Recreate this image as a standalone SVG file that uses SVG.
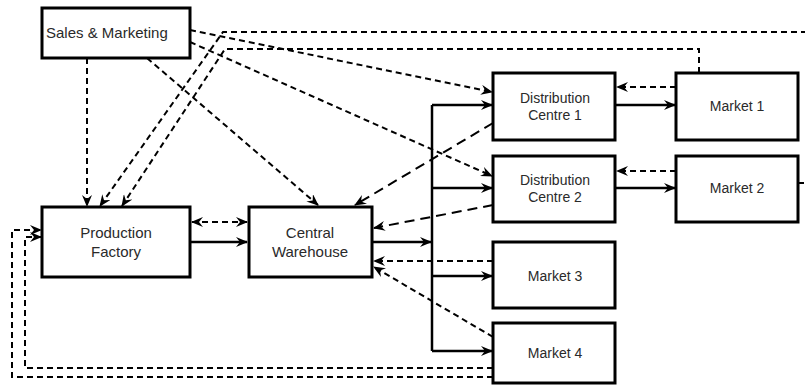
<svg xmlns="http://www.w3.org/2000/svg" width="805" height="388" viewBox="0 0 805 388">
<defs>
<marker id="ah" viewBox="0 0 12 10" refX="11" refY="5" markerWidth="12" markerHeight="10" markerUnits="userSpaceOnUse" orient="auto-start-reverse">
<path d="M0,0 L12,5 L0,10 L4,5 z" fill="#000"/>
</marker>
<style>
.box{fill:#fff;stroke:#000;stroke-width:3}
.t{font-family:"Liberation Sans",Arial,sans-serif;font-size:14px;fill:#2a2a2a;text-anchor:middle}
.l{font-size:15px}
.s{fill:none;stroke:#000;stroke-width:2.5}
.d{fill:none;stroke:#000;stroke-width:2;stroke-dasharray:6,4}
.dl{fill:none;stroke:#000;stroke-width:2;stroke-dasharray:10,6}
</style>
</defs>
<rect width="805" height="388" fill="#fff"/>
<g id="connectors">
<!-- solid flows -->
<path class="s" d="M190,242 H247" marker-end="url(#ah)"/>
<path class="s" d="M372,242 H431" marker-end="url(#ah)"/>
<path class="s" d="M432,105 V351"/>
<path class="s" d="M432,105 H492" marker-end="url(#ah)"/>
<path class="s" d="M432,188 H492" marker-end="url(#ah)"/>
<path class="s" d="M432,276 H492" marker-end="url(#ah)"/>
<path class="s" d="M432,351 H492" marker-end="url(#ah)"/>
<path class="s" d="M615,105 H675" marker-end="url(#ah)"/>
<path class="s" d="M615,188 H675" marker-end="url(#ah)"/>
<!-- dashed information flows -->
<path class="d" d="M676,87 H617" marker-end="url(#ah)"/>
<path class="d" d="M676,171 H617" marker-end="url(#ah)"/>
<path class="d" d="M87,58 V206" marker-end="url(#ah)"/>
<path class="d" d="M147,58 L318,205" marker-end="url(#ah)"/>
<path class="d" d="M190,30 L492,92" marker-end="url(#ah)"/>
<path class="d" d="M190,42 L492,176" marker-end="url(#ah)"/>
<path class="d" d="M798,183 H812 V32 H223 L100,206" marker-end="url(#ah)"/>
<path class="d" d="M699,73 V49 H225 L122,206" marker-end="url(#ah)"/>
<path class="d" d="M192,222 H247" marker-start="url(#ah)" marker-end="url(#ah)"/>
<path class="dl" d="M493,123 L355,205" marker-end="url(#ah)"/>
<path class="dl" d="M493,205 L374,228" marker-end="url(#ah)"/>
<path class="d" d="M493,261 H374" marker-end="url(#ah)"/>
<path class="d" d="M493,337 L374,267" marker-end="url(#ah)"/>
<path class="d" d="M493,368 H25 V237 H41" marker-end="url(#ah)"/>
<path class="d" d="M493,377 H12 V230 H41" marker-end="url(#ah)"/>
</g>
<g id="sales-marketing">
<rect class="box" x="42" y="8" width="148" height="50"/>
<text class="t l" x="46" y="38" style="text-anchor:start">Sales &amp; Marketing</text>
</g>
<g id="production-factory">
<rect class="box" x="42" y="207" width="148" height="70"/>
<text class="t l" x="116" y="238">Production</text>
<text class="t l" x="116" y="257">Factory</text>
</g>
<g id="central-warehouse">
<rect class="box" x="249" y="207" width="123" height="70"/>
<text class="t l" x="310" y="238">Central</text>
<text class="t l" x="310" y="257">Warehouse</text>
</g>
<g id="distribution-centre-1">
<rect class="box" x="493" y="73" width="122" height="67"/>
<text class="t" x="555" y="103">Distribution</text>
<text class="t" x="555" y="120">Centre 1</text>
</g>
<g id="distribution-centre-2">
<rect class="box" x="493" y="156" width="122" height="66"/>
<text class="t" x="555" y="185">Distribution</text>
<text class="t" x="555" y="202">Centre 2</text>
</g>
<g id="market-1">
<rect class="box" x="676" y="73" width="122" height="67"/>
<text class="t" x="737" y="111">Market 1</text>
</g>
<g id="market-2">
<rect class="box" x="676" y="156" width="122" height="66"/>
<text class="t" x="737" y="193">Market 2</text>
</g>
<g id="market-3">
<rect class="box" x="493" y="242" width="122" height="66"/>
<text class="t" x="555" y="281">Market 3</text>
</g>
<g id="market-4">
<rect class="box" x="493" y="323" width="122" height="60"/>
<text class="t" x="555" y="358">Market 4</text>
</g>
</svg>
